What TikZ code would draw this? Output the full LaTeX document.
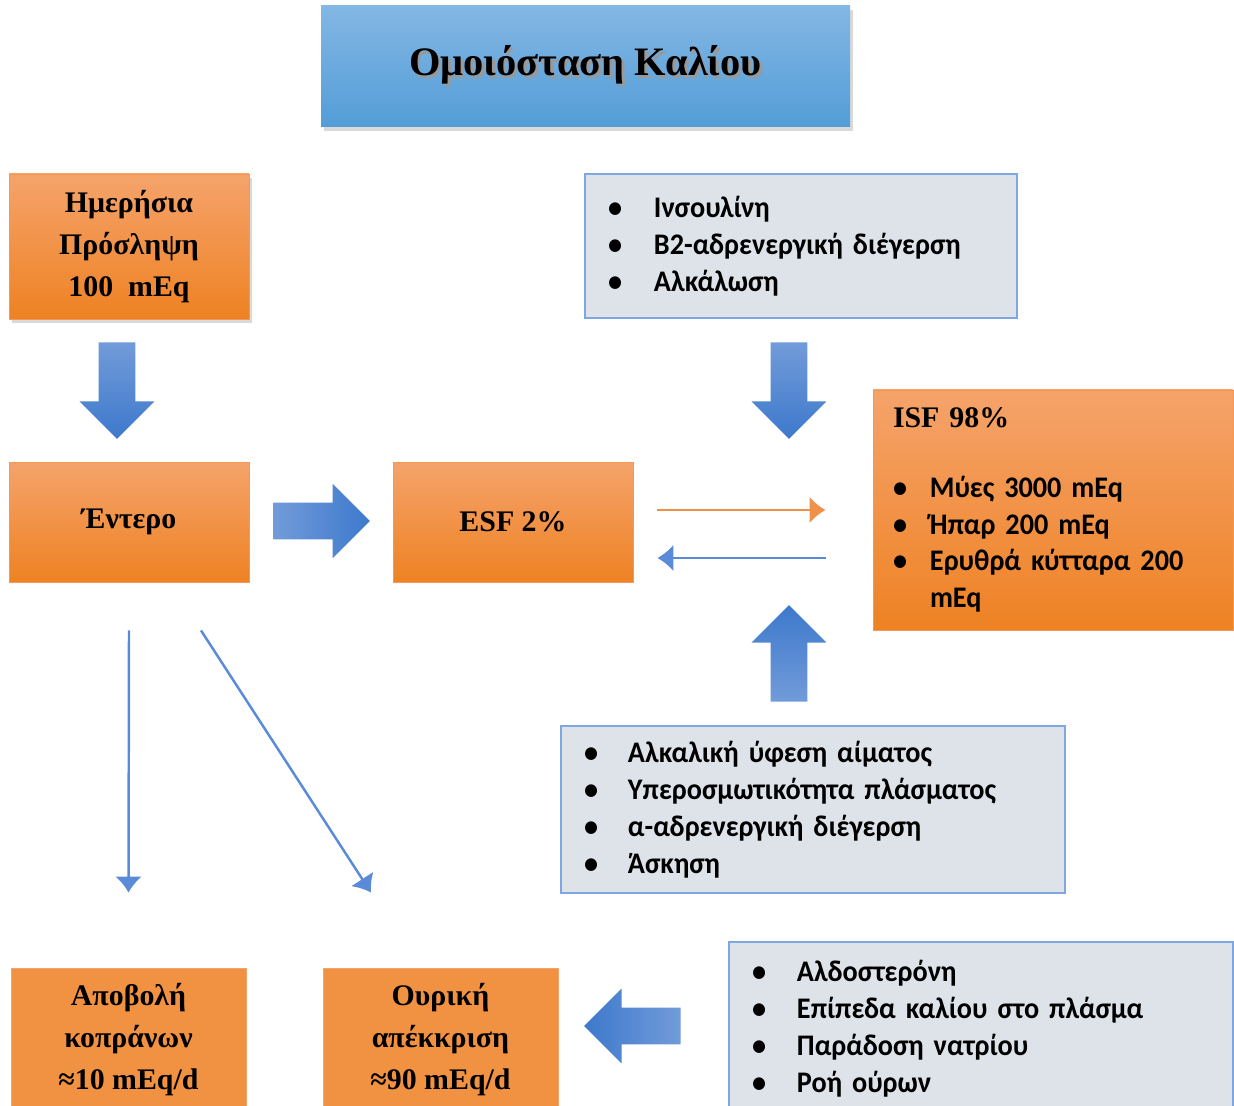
\documentclass[tikz,border=0pt]{standalone}
\usepackage{fontspec}
\setmainfont{Liberation Serif}
\newfontfamily\listfont[FakeStretch=0.945]{Carlito}
\usetikzlibrary{shapes.arrows,shadows,arrows.meta}

\definecolor{OrangeTop}{HTML}{F5A36B}
\definecolor{OrangeBottom}{HTML}{EE8223}
\definecolor{OrangeFlat}{HTML}{F19243}
\definecolor{BlueTop}{HTML}{83B7E4}
\definecolor{BlueBottom}{HTML}{539DD7}
\definecolor{GreyFill}{HTML}{DEE2E9}
\definecolor{GreyBorder}{HTML}{7EA6E0}
\definecolor{ArrowLight}{HTML}{729BD9}
\definecolor{ArrowDark}{HTML}{3D79CC}
\definecolor{LineBlue}{HTML}{5B8BD8}
\definecolor{LineOrange}{HTML}{F0914A}

\newcommand{\bul}[1][0.92cm]{\makebox[#1][l]{•}}

\tikzset{
  titlebox/.style={top color=BlueTop, bottom color=BlueBottom, draw=none,
    minimum width=10.58cm, minimum height=2.42cm,
    drop shadow={shadow xshift=0.06cm, shadow yshift=-0.09cm, opacity=0.3},
    font=\fontsize{23}{30}\selectfont\bfseries},
  orangebox/.style={top color=OrangeTop, bottom color=OrangeBottom, draw=OrangeTop!70!OrangeBottom,
    line width=0.5pt, minimum width=4.8cm, inner sep=0pt, align=center,
    font=\fontsize{17}{23.9}\selectfont\bfseries},
  flatbox/.style={fill=OrangeFlat, draw=OrangeTop, line width=0.5pt,
    minimum width=4.7cm, minimum height=2.88cm, inner sep=0pt, align=center,
    font=\fontsize{17}{23.9}\selectfont\bfseries},
  listbox/.style={fill=GreyFill, draw=GreyBorder, line width=0.9pt, align=left,
    inner xsep=0.46cm, inner ysep=0pt,
    font=\listfont\fontsize{17}{21}\selectfont\bfseries},
  blockarrow/.style={single arrow, draw=none, inner sep=0.36cm, minimum height=1.93cm,
    single arrow head extend=0.38cm, anchor=tail},
  thinblue/.style={->, draw=LineBlue, line width=1.4pt},
  thinorange/.style={->, draw=LineOrange, line width=1.6pt}
}

\begin{document}
\begin{tikzpicture}[>={Latex[length=0.32cm,width=0.54cm]}]
\useasboundingbox (0,0) rectangle (24.68,-22.12);

\node[titlebox] (Title) at (11.71,-1.33)
  {\rlap{\hspace{0.05cm}\raisebox{-0.06cm}{\color{black!40}Ομοιόσταση Καλίου}}Ομοιόσταση Καλίου};

\node[orangebox, minimum height=2.9cm,
  drop shadow={shadow xshift=0.06cm, shadow yshift=-0.09cm, opacity=0.3}] (Intake) at (2.58,-4.93)
  {Ημερήσια\\Πρόσληψη\\100\ \ mEq};
\node[listbox, text width=7.72cm, minimum height=2.88cm] (Inward) at (16.02,-4.92)
  {\bul Ινσουλίνη\\ \bul Β2-αδρενεργική διέγερση\\ \bul Αλκάλωση};

\node[blockarrow, shape border rotate=270, top color=ArrowLight, bottom color=ArrowDark] (DownA) at (2.34,-6.84) {};
\node[blockarrow, shape border rotate=270, top color=ArrowLight, bottom color=ArrowDark] (DownB) at (15.78,-6.84) {};

\node[orangebox, minimum height=2.4cm] (Gut) at (2.58,-10.44) {Έντερο};
\node[orangebox, minimum height=2.4cm] (ESF) at (10.26,-10.44) {ESF 2\%};
\node[blockarrow, left color=ArrowLight, right color=ArrowDark] (RightA) at (5.46,-10.42) {};

\node[orangebox, minimum width=7.2cm, minimum height=4.8cm, text width=6.4cm, inner xsep=0.4cm, align=left] (ISF) at (21.06,-10.2)
  {ISF 98\%\\[0.66cm]
   {\listfont\fontsize{17}{21}\selectfont\bul[0.74cm]Μύες 3000 mEq\\
   \bul[0.74cm]Ήπαρ 200 mEq\\
   \bul[0.74cm]Ερυθρά κύτταρα 200\\
   \hspace*{0.74cm}mEq\par}};

\draw[thinorange] ([shift={(0.48,0.24)}]ESF.east) -- ([xshift=-0.94cm]ISF.west);
\draw[thinblue] ([shift={(-0.94,-0.96)}]ISF.west) -- ([shift={(0.48,-0.72)}]ESF.east);

\node[blockarrow, shape border rotate=90, top color=ArrowDark, bottom color=ArrowLight] (UpA) at (15.78,-14.04) {};

\node[listbox, text width=9.16cm, minimum height=3.34cm] (Outward) at (16.26,-16.19)
  {\bul[0.88cm]Αλκαλική ύφεση αίματος\\ \bul[0.88cm]Υπεροσμωτικότητα πλάσματος\\
   \bul[0.88cm]α-αδρενεργική διέγερση\\ \bul[0.88cm]Άσκηση};

\node[flatbox] (Feces) at (2.57,-20.8) {Αποβολή\\κοπράνων\\≈10 mEq/d};
\node[flatbox] (Urine) at (8.81,-20.8) {Ουρική\\απέκκριση\\≈90 mEq/d};

\draw[thinblue] ([yshift=-0.96cm]Gut.south) -- ([yshift=1.5cm]Feces.north);
\draw[thinblue] ([shift={(1.44,-0.96)}]Gut.south) -- ([shift={(-1.39,1.5)}]Urine.north);

\node[blockarrow, shape border rotate=180, left color=ArrowDark, right color=ArrowLight] (LeftA) at (13.62,-20.52) {};

\node[listbox, text width=9.16cm, minimum height=3.48cm] (Renal) at (19.62,-20.58)
  {\bul[0.9cm]Αλδοστερόνη\\ \bul[0.9cm]Επίπεδα καλίου στο πλάσμα\\
   \bul[0.9cm]Παράδοση νατρίου\\ \bul[0.9cm]Ροή ούρων};
\end{tikzpicture}
\end{document}
